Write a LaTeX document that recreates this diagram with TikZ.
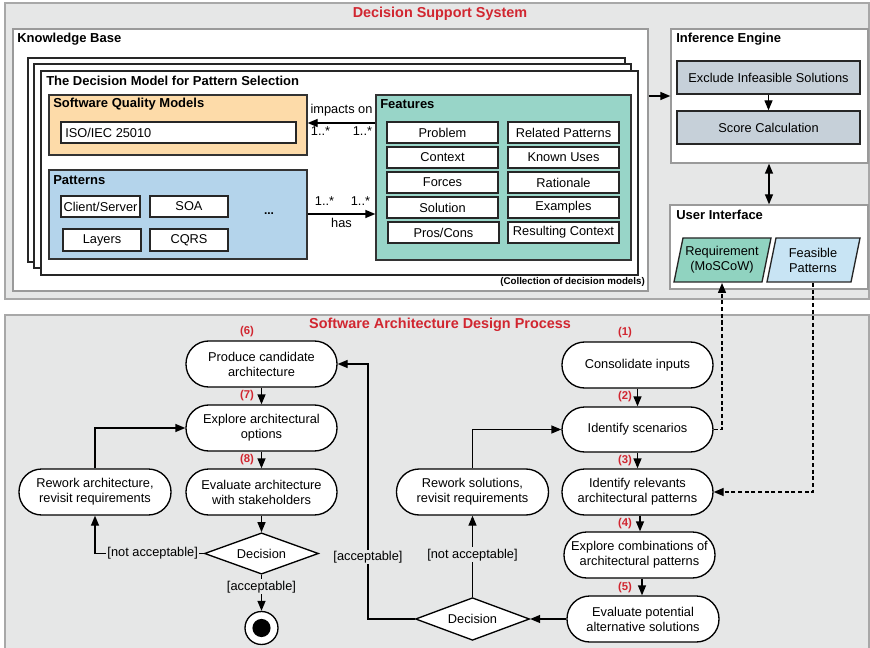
\documentclass[tikz,border=0pt]{standalone}
\usepackage{fontspec}
\setmainfont{Liberation Sans}
\usetikzlibrary{shapes.geometric,arrows.meta,fit}
\definecolor{panelgray}{HTML}{E6E7E7}
\definecolor{panelline}{HTML}{A8A8A8}
\definecolor{contline}{HTML}{9A9A9A}
\definecolor{dssred}{HTML}{D12630}
\definecolor{sqmfill}{HTML}{FDDBA9}
\definecolor{patfill}{HTML}{B4D4EB}
\definecolor{featfill}{HTML}{98D5C8}
\definecolor{iefill}{HTML}{C6D0D9}
\definecolor{reqfill}{HTML}{90D3C0}
\definecolor{feafill}{HTML}{C8E4F4}
\begin{document}
\begin{tikzpicture}[x=0.75pt,y=-0.75pt,
  base/.style={font=\fontsize{9.6}{11.3}\selectfont},
  sz/.style 2 args={minimum width=#1*0.75pt, minimum height=#2*0.75pt},
  ttl/.style={font=\bfseries\fontsize{9.75}{11.5}\selectfont, anchor=west, inner sep=0},
  redttl/.style={font=\bfseries\fontsize{10.8}{13}\selectfont, text=dssred, inner sep=0},
  num/.style={font=\bfseries\fontsize{8.5}{10}\selectfont, text=dssred, inner sep=0},
  panel/.style={draw=panelline, line width=1.1pt, fill=panelgray, inner sep=0},
  cont/.style={draw=contline, line width=1pt, fill=white, inner sep=0},
  pagebox/.style={draw=black!85, line width=1pt, fill=white, inner sep=0},
  grp/.style={draw=black!80, line width=1pt, inner sep=0},
  item/.style={draw=black!85, line width=1pt, fill=white, inner sep=0, base},
  act/.style={draw=black, line width=1pt, fill=white, inner sep=0, rounded corners=17pt, base, align=center},
  dec/.style={diamond, aspect=2.78, draw=black, line width=1pt, fill=white, inner sep=0, minimum width=85.5pt, minimum height=31pt, base},
  arr/.style={-{Triangle[length=7.5pt,width=6pt]}, line width=1pt, draw=black},
  arrtwo/.style={{Triangle[length=7.5pt,width=6pt]}-{Triangle[length=7.5pt,width=6pt]}, line width=1pt, draw=black},
  darr/.style={-{Triangle[length=7.5pt,width=6pt]}, line width=1pt, draw=black, dash pattern=on 3pt off 2pt},
  lbl/.style={base, fill=panelgray, inner sep=1pt},
  plain/.style={base, inner sep=0},
]
\useasboundingbox (0,0) rectangle (870,648);
\fill[white] (0,0) rectangle (870,648);

% ---------- panels ----------
\node[panel, fit={(5,3)(869,299)}] (dss) {};
\node[redttl] (dsst) at (440,14) {Decision Support System};
\node[panel, fit={(5,315)(869,652)}] (sadp) {};
\node[redttl] (sadpt) at (440,325) {Software Architecture Design Process};

% ---------- knowledge base ----------
\node[cont, fit={(13,29)(648,291)}] (kb) {};
\node[ttl] (kbt) at (17,39) {Knowledge Base};
\node[pagebox, fit={(28,58)(625,262)}] (pg1) {};
\node[pagebox, fit={(34,64)(631,268)}] (pg2) {};
\node[pagebox, fit={(41,71)(638,275)}] (dm) {};
\node[ttl] (dmt) at (46,81) {The Decision Model for Pattern Selection};
\node[font=\bfseries\fontsize{7.3}{9}\selectfont, anchor=east, inner sep=0] (coll) at (645,282) {(Collection of decision models)};

% software quality models
\node[grp, fill=sqmfill, fit={(49,95)(307,155)}] (sqm) {};
\node[ttl] (sqmt) at (53,104) {Software Quality Models};
\node[item, fit={(61,122)(296,143)}] (iso) {};
\node[plain, anchor=west] (isot) at (65,132.5) {ISO/IEC 25010};

% patterns
\node[grp, fill=patfill, fit={(49,170)(307,259)}] (pat) {};
\node[ttl] (patt) at (53,180) {Patterns};
\node[item, sz={79}{21}] (cs) at (100.5,206.5) {Client/Server};
\node[item, sz={78}{21}] (soa) at (189,206.5) {SOA};
\node[item, sz={78}{22}] (lay) at (102,240) {Layers};
\node[item, sz={78}{22}] (cqrs) at (189,240) {CQRS};
\node[plain, font=\bfseries\fontsize{9}{10}\selectfont] (dots) at (269,214) {...};

% features
\node[grp, fill=featfill, fit={(376,95)(631,260)}] (feat) {};
\node[ttl] (featt) at (380,104) {Features};
\node[item, sz={111}{21}] (fa) at (442.5,132.5) {Problem};
\node[item, sz={111}{21}] (fb) at (442.5,157.5) {Context};
\node[item, sz={111}{21}] (fc) at (442.5,182.5) {Forces};
\node[item, sz={111}{21}] (fd) at (442.5,207.5) {Solution};
\node[item, sz={111}{21}] (fe) at (443.5,232.5) {Pros/Cons};
\node[item, sz={111}{21}] (ga) at (563.5,132.5) {Related Patterns};
\node[item, sz={111}{21}] (gb) at (563.5,157.5) {Known Uses};
\node[item, sz={111}{21}] (gc) at (563.5,182.5) {Rationale};
\node[item, sz={111}{21}] (gd) at (563.5,207.5) {Examples};
\node[item, sz={111}{21}] (ge) at (563.5,232.5) {Resulting Context};

\coordinate (yimp) at (0,123);
\coordinate (yhas) at (0,214);
\draw[arr] (feat.west |- yimp) --
  node[plain, pos=0.5, yshift=9.3pt] (impl) {impacts on}
  node[plain, pos=0.19, yshift=-6.3pt] (m1) {1..*}
  node[plain, pos=0.81, yshift=-6.3pt] (m2) {1..*}
  (sqm.east |- yimp);
\draw[arr] (pat.east |- yhas) --
  node[plain, pos=0.5, yshift=-6.6pt] (hasl) {has}
  node[plain, pos=0.25, yshift=9.5pt] (m3) {1..*}
  node[plain, pos=0.78, yshift=9.5pt] (m4) {1..*}
  (feat.west |- yhas);

% ---------- inference engine ----------
\node[cont, fit={(671,29)(868,163)}] (ie) {};
\node[ttl] (iet) at (676,39) {Inference Engine};
\node[item, fill=iefill, sz={183}{33}] (excl) at (768.5,77.5) {Exclude Infeasible Solutions};
\node[item, fill=iefill, sz={183}{33}] (score) at (768.5,127.5) {Score Calculation};
\draw[arr] (excl.south) -- (score.north);
\coordinate (ykb) at (0,96);
\draw[arr] (kb.east |- ykb) -- (ie.west |- ykb);

% ---------- user interface ----------
\node[cont, fit={(670,205)(868,289)}] (ui) {};
\node[ttl] (uit) at (676,215) {User Interface};
\coordinate (xie) at (769,0);
\draw[arrtwo] (ie.south -| xie) -- (ui.north -| xie);
\draw[line width=1pt, draw=black!85, fill=reqfill] (674,282) -- (683,238) -- (771,238) -- (762,282) -- cycle;
\node[plain, align=center] (req) at (722,260) {Requirement\\(MoSCoW)};
\draw[line width=1pt, draw=black!85, fill=feafill] (767,282) -- (776,238) -- (860,238) -- (851,282) -- cycle;
\node[plain, align=center] (fea) at (813,260) {Feasible\\Patterns};
\coordinate (reqb) at (722,283);
\coordinate (feab) at (813,283);

% ---------- process: left ----------
\node[act, sz={151}{46}] (prod) at (261.5,364) {Produce candidate\\architecture};
\node[act, sz={151}{46}] (expl) at (261.5,428) {Explore architectural\\options};
\node[act, sz={151}{46}] (evala) at (261.5,492) {Evaluate architecture\\with stakeholders};
\node[act, sz={152}{46}] (rewa) at (95,492) {Rework architecture,\\revisit requirements};
\node[dec] (deca) at (261.5,553.5) {Decision};
\node[circle, draw=black, line width=1pt, fill=white, minimum size=24.75pt, inner sep=0] (endn) at (261.5,628) {};
\fill[black] (endn.center) circle (6.8pt);

\node[num] (n6) at (247,332) {(6)};
\node[num] (n7) at (247,396) {(7)};
\node[num] (n8) at (247,460) {(8)};

\draw[arr] (prod.south) -- (expl.north);
\draw[arr] (expl.south) -- (evala.north);
\draw[arr] (evala.south) -- (deca.north);
\draw[arr] (deca.south) -- node[lbl, pos=0.33] (acca) {[acceptable]} (endn.north);
\draw[arr] (deca.west) -- node[lbl, pos=0.47] (nacca) {[not acceptable]} (deca.west -| rewa.south) -- (rewa.south);
\draw[arr] (rewa.north) |- (expl.west);

% ---------- process: right ----------
\node[act, sz={151}{46}] (cons) at (637.5,365) {Consolidate inputs};
\node[act, sz={151}{45}] (idsc) at (637.5,429.5) {Identify scenarios};
\node[act, sz={151}{46}] (idrel) at (637.5,492) {Identify relevants\\architectural patterns};
\node[act, sz={151}{46}] (excomb) at (639.5,555) {Explore combinations of\\architectural patterns};
\node[act, sz={152}{46}] (evpot) at (643,619) {Evaluate potential\\alternative solutions};
\node[act, sz={152}{46}] (rews) at (472.5,492) {Rework solutions,\\revisit requirements};
\node[dec, minimum height=32pt] (decb) at (472.5,619) {Decision};

\node[num] (n1) at (625,333) {(1)};
\node[num] (n2) at (625,397) {(2)};
\node[num] (n3) at (625,461) {(3)};
\node[num] (n4) at (625,524) {(4)};
\node[num] (n5) at (625,588) {(5)};

\coordinate (c4) at (640,0);
\coordinate (c5) at (642,0);
\draw[arr] (cons.south) -- (idsc.north);
\draw[arr] (idsc.south) -- (idrel.north);
\draw[arr] (idrel.south -| c4) -- (excomb.north -| c4);
\draw[arr] (excomb.south -| c5) -- (evpot.north -| c5);
\draw[arr] (evpot.west) -- (decb.east);
\draw[arr] (decb.north) -- node[lbl, pos=0.52] (naccb) {[not acceptable]} (rews.south);
\draw[arr] (rews.north) |- (idsc.west);
\coordinate (xacc) at (368,0);
\draw[arr] (decb.west) -- (decb.west -| xacc) -- node[lbl, pos=0.243] (accb) {[acceptable]} (xacc |- prod.east) -- (prod.east);

% dashed links to UI
\draw[darr] (idsc.east) -- (idsc.east -| reqb) -- (reqb);
\draw[darr] (feab) -- (feab |- idrel.east) -- (idrel.east);
\end{tikzpicture}
\end{document}
